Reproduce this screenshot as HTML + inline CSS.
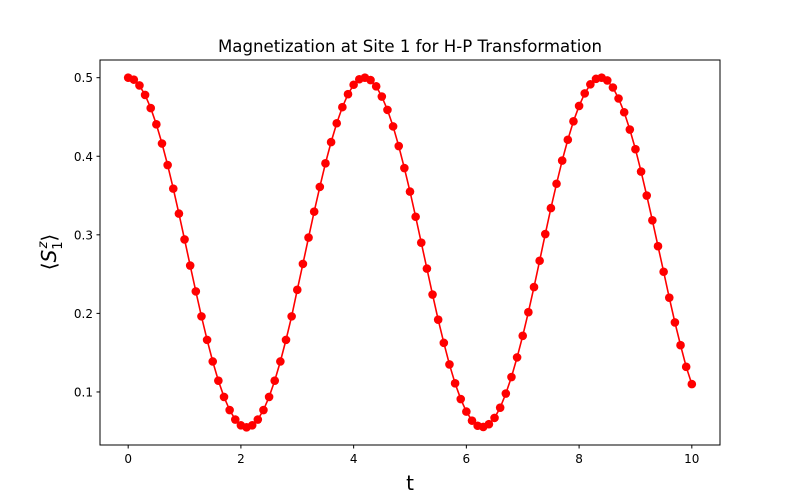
<!DOCTYPE html>
<html><head><meta charset="utf-8">
<style>
body{margin:0;background:#fff;}
svg{display:block;font-family:"DejaVu Sans","Liberation Sans",sans-serif;}
</style></head>
<body>
<svg id="chart" width="800" height="500" xmlns="http://www.w3.org/2000/svg">
<rect width="800" height="500" fill="#fff"/>
<text x="410" y="52" text-anchor="middle" font-size="16.6">Magnetization at Site 1 for H-P Transformation</text>
<g id="xticks"></g>
<g id="yticks"></g>
<g id="series"></g>
<rect x="100" y="60" width="620" height="385" fill="none" stroke="#000" stroke-width="1"/>
<text x="410" y="490" text-anchor="middle" font-size="20">t</text>
<text transform="translate(56,252) rotate(-90)" text-anchor="middle" font-size="20">⟨<tspan font-style="italic">S</tspan><tspan font-size="13" dy="6">1</tspan><tspan font-size="13" dx="-7" dy="-15" font-style="italic">z</tspan><tspan dy="9">⟩</tspan></text>
</svg>
<script>
const xTicks=[0,2,4,6,8,10];
const yTicks=[0.1,0.2,0.3,0.4,0.5];
const tValues=[0,0.1,0.2,0.3,0.4,0.5,0.6,0.7,0.8,0.9,1,1.1,1.2,1.3,1.4,1.5,1.6,1.7,1.8,1.9,2,2.1,2.2,2.3,2.4,2.5,2.6,2.7,2.8,2.9,3,3.1,3.2,3.3,3.4,3.5,3.6,3.7,3.8,3.9,4,4.1,4.2,4.3,4.4,4.5,4.6,4.7,4.8,4.9,5,5.1,5.2,5.3,5.4,5.5,5.6,5.7,5.8,5.9,6,6.1,6.2,6.3,6.4,6.5,6.6,6.7,6.8,6.9,7,7.1,7.2,7.3,7.4,7.5,7.6,7.7,7.8,7.9,8,8.1,8.2,8.3,8.4,8.5,8.6,8.7,8.8,8.9,9,9.1,9.2,9.3,9.4,9.5,9.6,9.7,9.8,9.9,10];
const szValues=[0.500,0.4975,0.4901,0.4780,0.4613,0.4406,0.4162,0.3888,0.3588,0.3270,0.2941,0.2609,0.2280,0.1962,0.1663,0.1388,0.1144,0.0937,0.0770,0.0649,0.0575,0.055,0.0575,0.0649,0.0770,0.0937,0.1144,0.1388,0.1663,0.1962,0.2300,0.2630,0.2965,0.3295,0.3610,0.3910,0.4180,0.4420,0.4625,0.4790,0.4910,0.4980,0.500,0.4970,0.4890,0.4760,0.4590,0.4380,0.4130,0.3850,0.3550,0.3230,0.2900,0.2570,0.2240,0.1920,0.1625,0.1350,0.1110,0.0910,0.0750,0.0635,0.0570,0.0555,0.0590,0.0670,0.0800,0.0980,0.1190,0.1440,0.1715,0.2015,0.2335,0.2670,0.3010,0.3340,0.3650,0.3945,0.4210,0.4445,0.4640,0.4800,0.4915,0.4985,0.500,0.4965,0.4875,0.4735,0.4560,0.4340,0.4090,0.3805,0.3500,0.3185,0.2855,0.2530,0.2200,0.1885,0.1595,0.1320,0.110];
const NS="http://www.w3.org/2000/svg";
const X=t=>100+(t+0.5)*620/11;
const Y=v=>445-(v-0.0325)*385/(0.5225-0.0325);
function mk(tag,attrs,parent){const e=document.createElementNS(NS,tag);for(const k in attrs)e.setAttribute(k,attrs[k]);parent.appendChild(e);return e;}
const xg=document.getElementById('xticks');
xTicks.forEach(t=>{
  const l=mk('line',{x1:X(t),x2:X(t),y1:445,y2:448.5,stroke:'#000'},xg);
  
  
  const tx=mk('text',{x:X(t),y:463,'text-anchor':'middle','font-size':'12'},xg);
  tx.textContent=String(t);
  
  
});
const yg=document.getElementById('yticks');
yTicks.forEach(v=>{
  const l=mk('line',{x1:96.5,x2:100,y1:Y(v),y2:Y(v),stroke:'#000'},yg);
  
  
  const tx=mk('text',{x:93,y:Y(v)+4.5,'text-anchor':'end','font-size':'12'},yg);
  tx.textContent=v.toFixed(1);
  
  
});
const sg=document.getElementById('series');
const pts=tValues.map((t,i)=>X(t).toFixed(2)+','+Y(szValues[i]).toFixed(2)).join(' ');
const pl=mk('polyline',{points:pts,fill:'none',stroke:'#ff0000','stroke-width':'1.6'},sg);


tValues.forEach((t,i)=>{
  const c=mk('circle',{cx:X(t),cy:Y(szValues[i]),r:4.3,fill:'#ff0000'},sg);
  
  
});
</script>
</body></html>
